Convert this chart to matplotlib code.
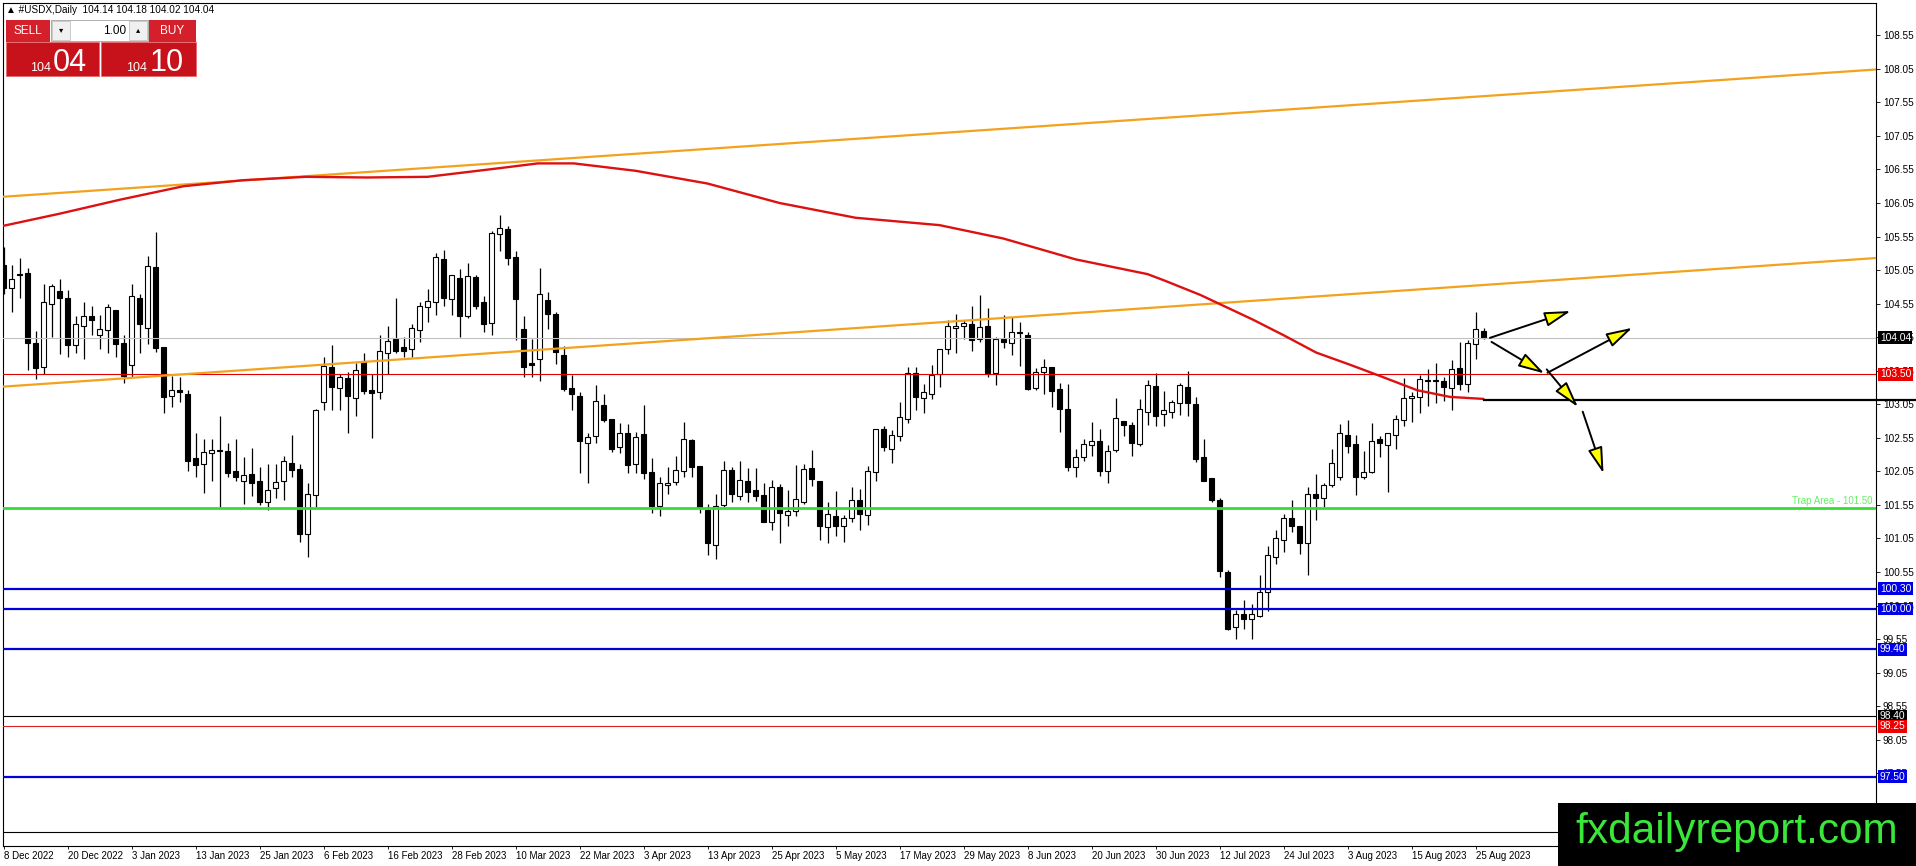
import matplotlib
matplotlib.use("Agg")
import matplotlib.pyplot as plt
from matplotlib.patches import Rectangle, FancyArrowPatch

plt.rcParams['font.family'] = ['Liberation Sans', 'DejaVu Sans']

W, H = 1916, 866

# daily candles, 8 Dec 2022 .. 28 Aug 2023 (one per trading day)
opens = [105.13, 104.78, 104.99, 105.00, 103.96, 103.60, 104.54, 104.74, 104.63, 103.93,
         104.21, 104.36, 104.09, 104.15, 104.46, 103.96, 103.63, 104.64, 104.19, 105.09,
         103.90, 103.17, 103.26, 103.20, 102.25, 102.16, 102.32, 102.37, 102.35, 102.05,
         101.90, 102.01, 101.91, 101.60, 101.80, 101.91, 102.18, 102.08, 101.11, 101.70,
         103.08, 103.61, 103.30, 103.44, 103.15, 103.70, 103.26, 103.24, 103.81, 104.02,
         103.90, 103.88, 104.15, 104.50, 104.57, 105.21, 104.62, 104.93, 104.36, 104.94,
         104.57, 104.26, 105.59, 105.66, 105.24, 104.17, 103.67, 103.72, 104.60, 104.40,
         103.78, 103.30, 103.17, 102.47, 102.58, 103.04, 102.83, 102.41, 102.62, 102.16,
         102.61, 102.04, 101.54, 101.84, 101.89, 102.05, 102.52, 102.13, 101.48, 100.96,
         101.55, 102.07, 101.69, 101.91, 101.77, 101.70, 101.29, 101.81, 101.40, 101.46,
         101.60, 102.10, 101.91, 101.22, 101.39, 101.23, 101.35, 101.63, 101.40, 102.04,
         102.68, 102.39, 102.58, 102.83, 103.51, 103.15, 103.21, 103.50, 103.87, 104.18,
         104.21, 104.25, 104.03, 104.21, 103.52, 104.02, 103.97, 104.12, 104.08, 103.30,
         103.53, 103.60, 103.28, 102.98, 102.11, 102.26, 102.45, 102.50, 102.05, 102.37,
         102.80, 102.74, 102.46, 102.94, 103.32, 102.90, 102.94, 103.07, 103.31, 103.05,
         102.26, 101.95, 101.62, 100.55, 99.73, 99.92, 99.85, 99.90, 100.25, 100.77,
         101.02, 101.35, 101.24, 100.98, 101.71, 101.65, 101.84, 101.96, 102.59, 102.46,
         101.96, 102.04, 102.53, 102.45, 102.59, 102.81, 103.14, 103.16, 103.41, 103.41,
         103.39, 103.30, 103.59, 103.35, 103.95, 104.14]
highs = [105.40, 105.13, 105.23, 105.08, 104.14, 104.85, 104.85, 104.91, 104.76, 104.37,
         104.57, 104.52, 104.38, 104.55, 104.46, 104.08, 104.84, 104.70, 105.26, 105.62,
         103.90, 103.47, 103.45, 103.26, 102.62, 102.54, 102.54, 102.88, 102.47, 102.54,
         102.26, 102.40, 102.11, 102.16, 102.16, 102.28, 102.59, 102.16, 101.87, 102.98,
         103.76, 103.93, 103.50, 103.53, 103.66, 103.81, 103.50, 104.08, 104.22, 104.64,
         104.06, 104.24, 104.57, 104.77, 105.31, 105.35, 104.98, 105.07, 105.16, 104.97,
         104.67, 105.63, 105.87, 105.71, 105.34, 104.36, 104.02, 105.08, 104.73, 104.43,
         103.92, 103.49, 103.24, 102.62, 103.33, 103.20, 102.83, 102.77, 102.76, 102.64,
         103.04, 102.25, 101.96, 102.11, 102.28, 102.79, 102.54, 102.13, 101.57, 101.72,
         102.21, 102.11, 102.21, 102.10, 102.10, 101.87, 101.92, 101.86, 101.77, 102.14,
         102.16, 102.37, 101.91, 101.60, 101.76, 101.40, 101.81, 101.79, 102.13, 102.68,
         102.73, 102.66, 103.08, 103.61, 103.60, 103.35, 103.64, 103.88, 104.30, 104.40,
         104.30, 104.51, 104.68, 104.48, 104.06, 104.38, 104.35, 104.28, 104.12, 103.59,
         103.73, 103.60, 103.37, 103.35, 102.39, 102.53, 102.78, 102.68, 102.44, 103.15,
         102.80, 102.78, 103.13, 103.41, 103.51, 103.25, 103.11, 103.36, 103.55, 103.16,
         102.53, 101.95, 101.65, 100.58, 99.98, 100.14, 100.07, 100.50, 100.94, 101.17,
         101.42, 101.62, 101.24, 101.82, 102.01, 101.88, 102.39, 102.76, 102.82, 102.59,
         102.35, 102.77, 102.57, 102.62, 102.89, 103.44, 103.24, 103.49, 103.57, 103.66,
         103.46, 103.71, 103.98, 104.01, 104.42, 104.18]
lows = [104.70, 104.43, 104.63, 103.56, 103.42, 103.50, 104.05, 103.80, 103.75, 103.82,
        103.72, 104.08, 103.87, 103.82, 103.75, 103.36, 103.46, 103.81, 103.95, 103.83,
        102.92, 103.01, 103.08, 102.05, 101.96, 101.73, 101.90, 101.52, 101.96, 101.90,
        101.56, 101.69, 101.55, 101.47, 101.65, 101.63, 101.97, 101.00, 100.78, 101.52,
        102.97, 102.97, 102.97, 102.62, 102.87, 103.20, 102.55, 103.13, 103.50, 103.81,
        103.75, 103.76, 103.98, 104.28, 104.38, 104.52, 104.38, 104.06, 104.33, 104.47,
        104.13, 104.08, 105.34, 105.12, 104.01, 103.45, 103.46, 103.40, 104.17, 103.65,
        103.25, 102.97, 102.03, 101.88, 102.47, 102.79, 102.34, 102.33, 102.03, 102.02,
        101.94, 101.43, 101.38, 101.72, 101.84, 101.96, 101.97, 101.43, 100.81, 100.75,
        101.52, 101.60, 101.62, 101.60, 101.61, 101.29, 101.17, 100.98, 101.24, 101.38,
        101.57, 101.83, 101.03, 100.99, 101.08, 101.00, 101.29, 101.18, 101.25, 101.90,
        102.35, 102.17, 102.50, 102.77, 102.96, 102.92, 103.13, 103.31, 103.80, 103.82,
        104.02, 103.85, 103.98, 103.46, 103.34, 103.89, 103.78, 103.62, 103.26, 103.26,
        103.20, 103.01, 102.63, 102.05, 101.97, 102.20, 102.28, 101.98, 101.88, 102.34,
        102.58, 102.28, 102.43, 102.74, 102.72, 102.72, 102.85, 102.89, 102.88, 102.19,
        101.91, 101.60, 100.47, 99.69, 99.55, 99.70, 99.55, 99.88, 99.97, 100.67,
        100.85, 101.15, 100.82, 100.51, 101.32, 101.52, 101.81, 101.92, 102.33, 101.70,
        101.94, 102.02, 102.26, 101.75, 102.39, 102.73, 102.78, 102.92, 103.03, 103.07,
        103.10, 102.97, 103.26, 103.23, 103.72, 104.02]
closes = [104.79, 104.91, 104.97, 103.97, 103.59, 104.57, 104.82, 104.64, 103.94, 104.24,
          104.36, 104.30, 104.17, 104.50, 103.95, 103.47, 104.66, 104.24, 105.11, 103.89,
          103.16, 103.27, 103.23, 102.21, 102.15, 102.34, 102.37, 102.35, 102.03, 101.96,
          101.99, 101.87, 101.60, 101.78, 101.89, 102.20, 102.07, 101.11, 101.72, 102.97,
          103.62, 103.31, 103.45, 103.18, 103.56, 103.25, 103.22, 103.84, 103.99, 103.85,
          103.85, 104.18, 104.51, 104.59, 105.24, 104.63, 104.97, 104.36, 104.96, 104.51,
          104.24, 105.61, 105.67, 105.23, 104.62, 103.60, 103.64, 104.70, 104.39, 103.83,
          103.28, 103.20, 102.51, 102.56, 103.10, 102.81, 102.38, 102.62, 102.14, 102.56,
          102.03, 101.53, 101.87, 101.87, 102.07, 102.53, 102.12, 101.52, 100.98, 101.54,
          102.07, 101.71, 101.92, 101.75, 101.69, 101.30, 101.81, 101.43, 101.46, 101.64,
          102.09, 101.93, 101.23, 101.41, 101.24, 101.36, 101.62, 101.41, 102.06, 102.68,
          102.41, 102.59, 102.86, 103.52, 103.16, 103.23, 103.49, 103.88, 104.22, 104.21,
          104.26, 104.01, 104.20, 103.52, 104.02, 103.98, 104.12, 104.11, 103.28, 103.53,
          103.60, 103.25, 102.98, 102.12, 102.27, 102.46, 102.51, 102.06, 102.36, 102.85,
          102.74, 102.48, 102.98, 103.33, 102.88, 102.96, 103.08, 103.33, 103.07, 102.23,
          101.91, 101.62, 100.56, 99.70, 99.92, 99.85, 99.92, 100.25, 100.80, 101.05,
          101.35, 101.23, 100.99, 101.72, 101.66, 101.84, 102.18, 102.62, 102.43, 101.97,
          102.04, 102.51, 102.47, 102.62, 102.83, 103.14, 103.18, 103.42, 103.39, 103.39,
          103.31, 103.57, 103.35, 103.96, 104.17, 104.04]

date_labels = ['8 Dec 2022', '20 Dec 2022', '3 Jan 2023', '13 Jan 2023', '25 Jan 2023',
               '6 Feb 2023', '16 Feb 2023', '28 Feb 2023', '10 Mar 2023', '22 Mar 2023',
               '3 Apr 2023', '13 Apr 2023', '25 Apr 2023', '5 May 2023', '17 May 2023',
               '29 May 2023', '8 Jun 2023', '20 Jun 2023', '30 Jun 2023', '12 Jul 2023',
               '24 Jul 2023', '3 Aug 2023', '15 Aug 2023', '25 Aug 2023']
label_every = 8

# moving average (red curve), read at some bars
ma_bars = [-0.4, 7, 14.6, 22.5, 30, 37.8, 45.4, 53, 60.7, 66.8, 71.3, 79, 88, 97, 106.5,
           117, 125, 134, 143, 145, 149.6, 156.2, 160, 164.1, 168.3, 172.1, 176.7, 180.8, 185]
ma_vals = [105.70, 105.89, 106.10, 106.30, 106.39, 106.44, 106.43, 106.44, 106.55, 106.64,
           106.64, 106.53, 106.34, 106.05, 105.83, 105.72, 105.52, 105.21, 104.99, 104.90,
           104.68, 104.31, 104.08, 103.82, 103.64, 103.47, 103.26, 103.16, 103.13]

# trend lines (orange): (bar, price) endpoints
upper_trend = [(-0.4, 106.14), (234.1, 108.04)]
lower_trend = [(-0.4, 103.31), (234.1, 105.23)]

# horizontal levels
blue_levels = [100.30, 100.00, 99.40, 97.50]
trap_level = 101.50
red_level = 103.50
bid_price = 104.04
ma_flat = 103.12
thin_black = [98.40, 96.68]
thin_red = [98.25]

price_boxes = [(104.04, '#000000'), (103.50, '#ee0000'), (100.30, '#0000e6'),
               (100.00, '#0000e6'), (99.40, '#0000e6'), (98.40, '#000000'),
               (98.25, '#ee0000'), (97.50, '#0000e6')]

y_ticks = [97.05, 97.55, 98.05, 98.55, 99.05, 99.55, 100.05, 100.55, 101.05, 101.55,
           102.05, 102.55, 103.05, 103.55, 104.05, 104.55, 105.05, 105.55, 106.05, 106.55,
           107.05, 107.55, 108.05, 108.55]

# scenario arrows (bar, price) -> (bar, price)
arrows = [((185.8, 104.04), (195.9, 104.44)),
          ((186.0, 103.98), (192.6, 103.51)),
          ((193.0, 103.52), (203.6, 104.19)),
          ((192.9, 103.57), (196.8, 103.01)),
          ((197.4, 102.94), (200.0, 102.02))]

fig = plt.figure(figsize=(W / 100, H / 100), dpi=100)
fig.patch.set_facecolor('white')
left, right, top, bottom = 2.7, 1876, 2.7, 846
ax = fig.add_axes([left / W, 1 - bottom / H, (right - left) / W, (bottom - top) / H])
ax.set_xlim(-0.1, 234.06)
ax.set_ylim(96.467, 109.035)

# candles
xs = list(range(len(opens)))
for i in xs:
    o, h, l, c = opens[i], highs[i], lows[i], closes[i]
    ax.vlines(i, l, h, color='black', lw=0.9, zorder=2)
    fc = 'white' if c >= o else 'black'
    ax.bar(i, max(abs(c - o), 0.004), bottom=min(o, c), width=0.58, color=fc,
           edgecolor='black', linewidth=0.8, zorder=3)

# levels
ax.axhline(bid_price, color='#c0c0c0', lw=0.8, zorder=4)
ax.axhline(red_level, color='#e00000', lw=0.8, zorder=4)
ax.axhline(trap_level, color='#33dd33', lw=2.0, zorder=4)
for lv in blue_levels:
    ax.axhline(lv, color='#0000dd', lw=1.6, zorder=4)
for lv in thin_black:
    ax.axhline(lv, color='black', lw=0.8, zorder=4)
for lv in thin_red:
    ax.axhline(lv, color='#dd2222', lw=0.8, zorder=4)

for seg in (upper_trend, lower_trend):
    ax.plot([seg[0][0], seg[1][0]], [seg[0][1], seg[1][1]], color='#f2a21c', lw=1.6, zorder=4)

ax.plot(ma_bars, ma_vals, color='#dd1111', lw=1.7, zorder=4, solid_capstyle='round',
        solid_joinstyle='round')
ax.plot([len(opens) - 1, 239.5], [ma_flat, ma_flat], color='black', lw=1.6, zorder=5,
        clip_on=False)

ax.text(233.6, trap_level + 0.04, 'Trap Area - 101.50', color='#66ee66', fontsize=7,
        ha='right', va='bottom', zorder=5)

for (p0, p1) in arrows:
    ax.add_patch(FancyArrowPatch(p0, p1, arrowstyle='-|>,head_length=1.6,head_width=0.45',
                                 mutation_scale=10, facecolor='#ffff00', edgecolor='black',
                                 lw=1.4, zorder=6, shrinkA=0, shrinkB=0))

# axes look
for s in ax.spines.values():
    s.set_color('black')
    s.set_linewidth(0.8)
ax.yaxis.tick_right()
ax.set_yticks(y_ticks)
ax.set_yticklabels(['%.2f' % v for v in y_ticks])
ax.tick_params(axis='y', direction='out', length=3, width=0.6, pad=2, labelsize=7.2)
ax.set_xticks([i * label_every for i in range(len(date_labels))])
ax.set_xticklabels(date_labels, ha='left')
ax.tick_params(axis='x', direction='out', length=2, width=0.6, pad=1.5, labelsize=7)

for p, col in price_boxes:
    ax.text(234.55, p, '%.2f' % p, color='white', fontsize=7.4, ha='left', va='center',
            zorder=7, clip_on=False,
            bbox=dict(boxstyle='square,pad=0.14', fc=col, ec='none'))

# overlay in pixel coordinates: header, trade panel, watermark
ov = fig.add_axes([0, 0, 1, 1])
ov.set_xlim(0, W)
ov.set_ylim(H, 0)
ov.axis('off')
ov.patch.set_alpha(0)

ov.text(6, 10, '\u25b2 #USDX,Daily  104.14 104.18 104.02 104.04', fontsize=7.2,
        va='center', ha='left', color='black')

red = '#d3202a'
ov.add_patch(Rectangle((6, 20), 44, 22, fc=red, ec='none'))
ov.add_patch(Rectangle((149, 20), 47, 22, fc=red, ec='none'))
ov.add_patch(Rectangle((6, 42), 93, 34, fc='#c8121b', ec='#e86a6a', lw=0.6))
ov.add_patch(Rectangle((101, 42), 95, 34, fc='#c8121b', ec='#e86a6a', lw=0.6))
ov.add_patch(Rectangle((51, 20), 97, 21, fc='white', ec='#a0a0a0', lw=0.6))
ov.add_patch(Rectangle((52, 21), 18, 19, fc='#f0f0f0', ec='#b8b8b8', lw=0.5))
ov.add_patch(Rectangle((129, 21), 18, 19, fc='#f0f0f0', ec='#b8b8b8', lw=0.5))
ov.text(28, 31, 'SELL', color='white', fontsize=8.5, ha='center', va='center')
ov.text(172, 31, 'BUY', color='white', fontsize=8.5, ha='center', va='center')
ov.text(126, 31, '1.00', color='black', fontsize=8.5, ha='right', va='center')
ov.text(61, 31, '\u25be', color='black', fontsize=6, ha='center', va='center')
ov.text(138, 31, '\u25b4', color='black', fontsize=6, ha='center', va='center')
ov.text(51, 71, '104', color='white', fontsize=9, ha='right', va='baseline')
ov.text(53, 71, '04', color='white', fontsize=22, ha='left', va='baseline')
ov.text(147, 71, '104', color='white', fontsize=9, ha='right', va='baseline')
ov.text(150, 71, '10', color='white', fontsize=22, ha='left', va='baseline')

ov.add_patch(Rectangle((1558, 803), W - 1558, H - 803, fc='black', ec='none'))
ov.text(1737, 843, 'fxdailyreport.com', color='#39e639', fontsize=30.5,
        ha='center', va='baseline')

fig.savefig('out.png', dpi=100)
